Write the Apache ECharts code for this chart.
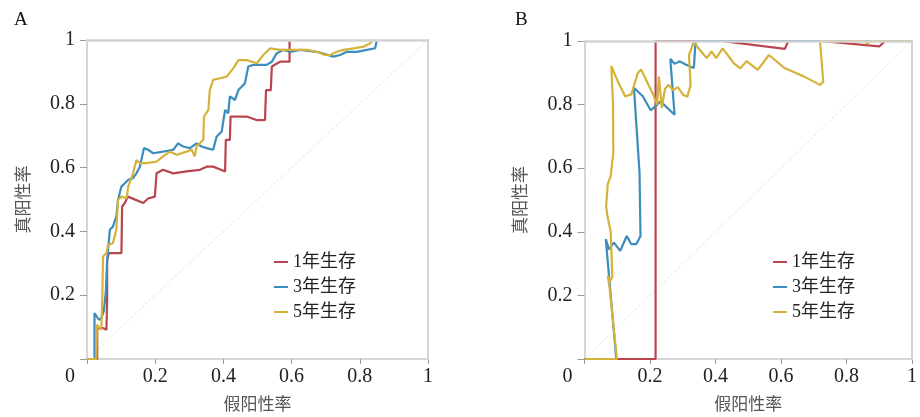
<!DOCTYPE html>
<html>
<head>
<meta charset="utf-8">
<script src="https://cdn.jsdelivr.net/npm/echarts@6/dist/echarts.min.js"></script>
<style>
  html, body { margin: 0; padding: 0; background: #fff; }
  #chart { width: 920px; height: 417px; }
</style>
</head>
<body>
<div id="chart"></div>
<script>
// 图例名称 / 面板
const groups = ['1年生存', '3年生存', '5年生存']
const panels = ['A', 'B']
const colors = ['#b9454f', '#3a8dbd', '#d5b23a']

// A: [假阳性率, 真阳性率]
const rocA1 = [[0, 0], [0.030, 0], [0.030, 0.097], [0.047, 0.097], [0.057, 0.092], [0.059, 0.186], [0.059, 0.311],
  [0.064, 0.332], [0.081, 0.332], [0.101, 0.332], [0.103, 0.478], [0.111, 0.489], [0.120, 0.509], [0.165, 0.489],
  [0.179, 0.503], [0.199, 0.509], [0.204, 0.582], [0.223, 0.593], [0.253, 0.582], [0.292, 0.588], [0.331, 0.593],
  [0.351, 0.603], [0.370, 0.603], [0.405, 0.588], [0.407, 0.687], [0.419, 0.687], [0.421, 0.760], [0.468, 0.760],
  [0.497, 0.749], [0.522, 0.749], [0.525, 0.843], [0.539, 0.843], [0.542, 0.917], [0.566, 0.932], [0.594, 0.932],
  [0.594, 1]]
const rocA3 = [[0, 0], [0.022, 0], [0.022, 0.144], [0.035, 0.123], [0.042, 0.128], [0.049, 0.149], [0.052, 0.154],
  [0.055, 0.207], [0.059, 0.306], [0.067, 0.405], [0.076, 0.415], [0.086, 0.447], [0.091, 0.499], [0.096, 0.504],
  [0.101, 0.541], [0.111, 0.551], [0.121, 0.562], [0.135, 0.567], [0.145, 0.582], [0.155, 0.603], [0.167, 0.661],
  [0.179, 0.656], [0.194, 0.645], [0.223, 0.650], [0.253, 0.656], [0.267, 0.676], [0.282, 0.666], [0.302, 0.661],
  [0.321, 0.676], [0.336, 0.666], [0.351, 0.661], [0.370, 0.656], [0.380, 0.697], [0.395, 0.713], [0.405, 0.781],
  [0.414, 0.770], [0.419, 0.823], [0.434, 0.812], [0.444, 0.843], [0.463, 0.864], [0.473, 0.917], [0.488, 0.922],
  [0.527, 0.922], [0.542, 0.932], [0.556, 0.958], [0.576, 0.969], [0.596, 0.963], [0.625, 0.969], [0.674, 0.963],
  [0.723, 0.948], [0.742, 0.953], [0.762, 0.963], [0.791, 0.963], [0.821, 0.969], [0.845, 0.974], [0.850, 1]]
const rocA5 = [[0, 0], [0.027, 0], [0.029, 0.107], [0.042, 0.092], [0.045, 0.196], [0.047, 0.321], [0.057, 0.332],
  [0.062, 0.358], [0.076, 0.363], [0.086, 0.405], [0.091, 0.499], [0.101, 0.509], [0.116, 0.504], [0.121, 0.541],
  [0.135, 0.582], [0.145, 0.624], [0.155, 0.614], [0.174, 0.614], [0.204, 0.619], [0.223, 0.635], [0.243, 0.650],
  [0.263, 0.640], [0.277, 0.645], [0.292, 0.650], [0.307, 0.656], [0.316, 0.635], [0.321, 0.666], [0.331, 0.676],
  [0.341, 0.687], [0.343, 0.760], [0.356, 0.781], [0.360, 0.843], [0.370, 0.875], [0.390, 0.880], [0.409, 0.885],
  [0.429, 0.911], [0.444, 0.937], [0.468, 0.937], [0.498, 0.927], [0.517, 0.953], [0.537, 0.974], [0.566, 0.969],
  [0.645, 0.969], [0.674, 0.963], [0.698, 0.953], [0.713, 0.953], [0.733, 0.963], [0.752, 0.969], [0.782, 0.974],
  [0.811, 0.979], [0.831, 0.990], [0.836, 1]]

// B
const rocB1 = [[0, 0], [0.217, 0], [0.217, 1], [0.417, 1], [0.612, 0.975], [0.622, 1], [0.720, 1], [0.900, 0.983],
  [0.919, 1], [1, 1]]
const rocB3 = [[0, 0], [0.097, 0], [0.065, 0.377], [0.075, 0.345], [0.090, 0.366], [0.109, 0.340], [0.129, 0.387],
  [0.143, 0.361], [0.158, 0.361], [0.171, 0.387], [0.168, 0.586], [0.151, 0.853], [0.178, 0.826], [0.202, 0.782],
  [0.222, 0.800], [0.232, 0.810], [0.275, 0.768], [0.262, 0.944], [0.275, 0.928], [0.290, 0.936], [0.309, 0.926],
  [0.334, 0.915], [0.339, 1], [1, 1]]
const rocB5 = [[0, 0], [0.099, 0], [0.077, 0.220], [0.071, 0.262], [0.079, 0.245], [0.085, 0.258], [0.080, 0.400],
  [0.070, 0.450], [0.066, 0.480], [0.071, 0.550], [0.080, 0.575], [0.088, 0.650], [0.087, 0.800], [0.082, 0.921],
  [0.103, 0.870], [0.124, 0.826], [0.143, 0.832], [0.163, 0.900], [0.173, 0.910], [0.212, 0.826], [0.222, 0.800],
  [0.227, 0.888], [0.236, 0.790], [0.246, 0.850], [0.256, 0.862], [0.271, 0.846], [0.285, 0.855], [0.302, 0.830],
  [0.314, 0.825], [0.324, 0.862], [0.319, 0.956], [0.334, 0.998], [0.348, 0.977], [0.373, 0.946], [0.388, 0.967],
  [0.402, 0.946], [0.422, 0.977], [0.456, 0.930], [0.476, 0.914], [0.495, 0.937], [0.529, 0.909], [0.563, 0.956],
  [0.612, 0.914], [0.671, 0.888], [0.719, 0.862], [0.729, 0.872], [0.719, 1], [0.855, 1], [0.863, 0.992],
  [0.872, 1], [1, 1]]

const diagonal = [[0, 0], [1, 1]]

const serif = "'Liberation Serif', 'Noto Sans CJK SC', serif"
const cjk = "'Noto Sans CJK SC', sans-serif"

const chart = echarts.init(document.getElementById('chart'))

const grids = [
  { left: 87, top: 40, width: 341, height: 319 },
  { left: 584.5, top: 41, width: 341.5, height: 319 }
]

const mainX = (g) => ({
  type: 'value', gridIndex: g, min: 0, max: 1, interval: 0.2, position: 'bottom',
  axisLine: { onZero: false, lineStyle: { color: '#c9c9c9', width: 1.5 } },
  axisTick: { length: 5, lineStyle: { color: '#999' } },
  splitLine: { show: false },
  axisLabel: {
    fontFamily: serif, fontSize: 20, color: '#222', margin: 8,
    formatter: (v) => (v === 0 ? '{z|0}' : String(+v.toFixed(1))),
    rich: { z: { fontFamily: serif, fontSize: 20, color: '#222', padding: [0, 34, 0, 0] } }
  },
  name: '假阳性率', nameLocation: 'middle', nameGap: 36,
  nameTextStyle: { fontFamily: cjk, fontSize: 17, color: '#555' }
})
const mainY = (g) => ({
  type: 'value', gridIndex: g, min: 0, max: 1, interval: 0.2, position: 'left',
  axisLine: { show: true, onZero: false, lineStyle: { color: '#c9c9c9', width: 1.5 } },
  axisTick: { show: true, length: 7, lineStyle: { color: '#999' } },
  splitLine: { show: false },
  axisLabel: {
    fontFamily: serif, fontSize: 20, color: '#222', margin: 12,
    formatter: (v) => (v === 0 ? '' : String(+v.toFixed(1)))
  },
  name: '真阳性率', nameLocation: 'middle', nameGap: 56,
  nameTextStyle: { fontFamily: cjk, fontSize: 17, color: '#555' }
})
// 顶部和右侧边框，压在曲线上面
const frameX = (g) => ({
  type: 'value', gridIndex: g, min: 0, max: 1, position: 'top', z: 5,
  axisLine: { onZero: false, lineStyle: { color: '#d4d4d4', width: 2.6 } },
  axisTick: { show: false }, axisLabel: { show: false }, splitLine: { show: false }
})
const frameY = (g) => ({
  type: 'value', gridIndex: g, min: 0, max: 1, position: 'right', z: 5,
  axisLine: { show: true, onZero: false, lineStyle: { color: '#d4d4d4', width: 2 } },
  axisTick: { show: false }, axisLabel: { show: false }, splitLine: { show: false }
})

const rocs = [[rocA1, rocA3, rocA5], [rocB1, rocB3, rocB5]]
const series = []
rocs.forEach((set, g) => {
  series.push({
    type: 'line', xAxisIndex: g * 2, yAxisIndex: g * 2, data: diagonal, silent: true,
    symbol: 'none', lineStyle: { color: '#e2e2e2', width: 1, type: [3, 2] }
  })
  set.forEach((d, i) => {
    series.push({
      name: groups[i], type: 'line', xAxisIndex: g * 2, yAxisIndex: g * 2, data: d,
      symbol: 'none', lineStyle: { color: colors[i], width: 2.2 }, itemStyle: { color: colors[i] }
    })
  })
})

const legendAt = (left) => ({
  data: groups, orient: 'vertical', left: left, top: 248, itemGap: 7,
  itemWidth: 14, itemHeight: 2, icon: 'rect',
  textStyle: { fontFamily: serif, fontSize: 18, color: '#222' }
})

chart.setOption({
  animation: false,
  title: panels.map((p, i) => ({
    text: p, left: i === 0 ? 9 : 510, top: 6,
    textStyle: { fontFamily: serif, fontSize: 19, fontWeight: 'normal', color: '#111' }
  })),
  grid: grids,
  legend: [legendAt(269), legendAt(768)],
  xAxis: [mainX(0), frameX(0), mainX(1), frameX(1)],
  yAxis: [mainY(0), frameY(0), mainY(1), frameY(1)],
  series
})
</script>
</body>
</html>
